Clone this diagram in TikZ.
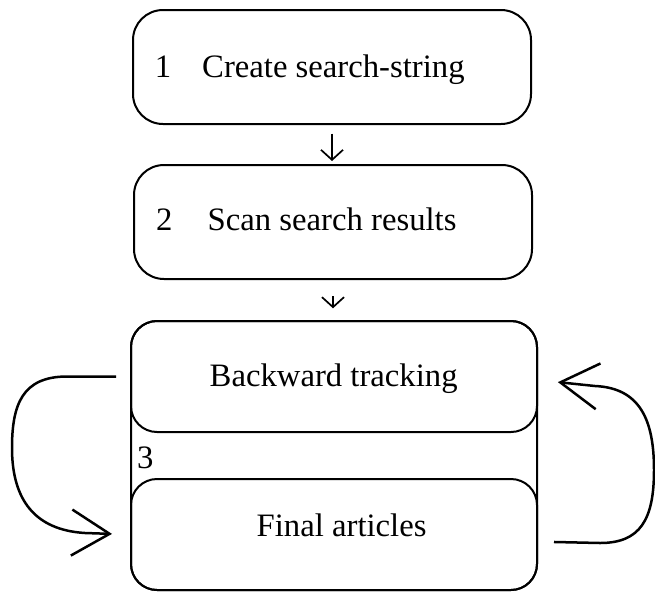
\documentclass[tikz,border=0pt]{standalone}
\usepackage{fontspec}
\setmainfont{Liberation Serif}
\usetikzlibrary{arrows.meta}
\begin{document}
\begin{tikzpicture}[x=1pt,y=-1pt,
  stepbox/.style={draw, line width=2pt, rounded corners=30pt,
    minimum width=398pt, minimum height=114pt, inner sep=0pt},
  groupbox/.style={draw, line width=2pt, rounded corners=26pt,
    minimum width=406pt, inner sep=0pt},
  steptext/.style={inner sep=0pt, anchor=base west,
    font=\fontsize{32.7}{39}\selectfont},
  flow/.style={line width=1.7pt, -{Straight Barb[length=10pt,width=22pt]}},
  loopback/.style={line width=2.5pt, -{Straight Barb[length=38pt,width=46pt]}}]

  % page frame
  \path[use as bounding box, fill=white] (0,0) rectangle (655,592);

  % step boxes
  \node[stepbox] (s1) at (332,67) {};
  \node[stepbox] (s2) at (333,222) {};

  % step 3: outer frame with two inner boxes
  \node[groupbox, minimum height=269pt] (g3) at (334,455.5) {};
  \node[groupbox, minimum height=111pt] (bt) at (334,376.5) {};
  \node[groupbox, minimum height=111pt] (fa) at (334,534.5) {};

  % labels
  \node[steptext] (n1) at (154.7,77) {1};
  \node[steptext] (t1) at (202,77) {Create search-string};
  \node[steptext] (n2) at (156,230) {2};
  \node[steptext] (t2) at (207.5,230) {Scan search results};
  \node[steptext] (t3a) at (209.5,386) {Backward tracking};
  \node[steptext] (n3) at (137,468) {3};
  \node[steptext] (t3b) at (256.5,536) {Final articles};

  % flow between steps
  \draw[flow, shorten <=8.7pt, shorten >=3pt] (s1.south) -- (s1.south |- s2.north);
  \draw[flow, shorten <=16pt, shorten >=11.7pt] (s2.south) -- (s2.south |- g3.north);

  % loop: backward tracking -> final articles
  \draw[loopback, shorten <=14pt, shorten >=18pt] (bt.west) -- (67,376.5)
    .. controls (22,376.5) and (12,405) .. (12,448)
    .. controls (12,500) and (35,530) .. (85,533) -- (fa.west);

  % loop: final articles -> backward tracking
  \draw[loopback, shorten <=16pt, shorten >=20pt] (fa.-2.4) -- (600,543)
    .. controls (640,543) and (654,520) .. (654,470)
    .. controls (654,420) and (640,388) .. (595,386) -- (bt.-1.8);
\end{tikzpicture}
\end{document}
